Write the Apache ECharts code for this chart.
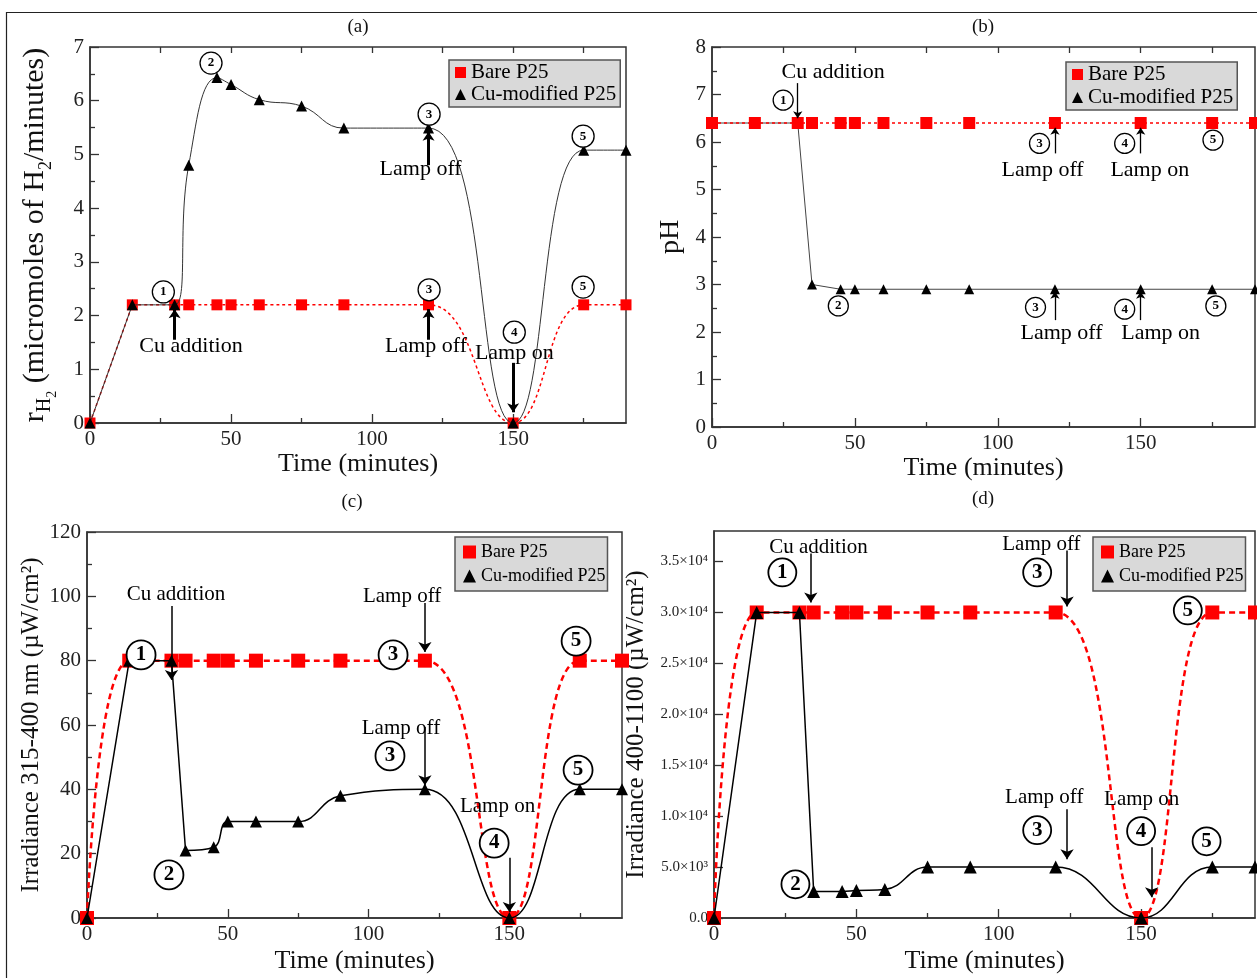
<!DOCTYPE html>
<html><head><meta charset="utf-8">
<script src="https://cdn.jsdelivr.net/npm/echarts@6/dist/echarts.min.js"></script>
<style>html,body{margin:0;padding:0;background:#fff}#c{width:1257px;height:978px}</style>
</head><body><div id="c"></div>
<script>
// ---------------- data ----------------
const time = [0, 15, 30, 35, 45, 50, 60, 75, 90, 120, 150, 175, 190];
const aBare = [0, 2.2, 2.2, 2.2, 2.2, 2.2, 2.2, 2.2, 2.2, 2.2, 0, 2.2, 2.2];
const aCu   = [0, 2.2, 2.2, 4.8, 6.43, 6.3, 6.02, 5.9, 5.49, 5.49, 0, 5.08, 5.08];
const bBare = [6.4, 6.4, 6.4, 6.4, 6.4, 6.4, 6.4, 6.4, 6.4, 6.4, 6.4, 6.4, 6.4];
const bCu   = [6.4, 6.4, 6.4, 3.0, 2.9, 2.9, 2.9, 2.9, 2.9, 2.9, 2.9, 2.9, 2.9];
const cBare = [0, 80, 80, 80, 80, 80, 80, 80, 80, 80, 0, 80, 80];
const cCu   = [0, 80, 80, 21, 22, 30, 30, 30, 38, 40, 0, 40, 40];
const dBare = [0, 30000, 30000, 30000, 30000, 30000, 30000, 30000, 30000, 30000, 0, 30000, 30000];
const dCu   = [0, 30000, 30000, 2600, 2600, 2700, 2800, 5000, 5000, 5000, 0, 5000, 5000];

const xMajorTicks = [0, 50, 100, 150];
const xMinorTicks = [25, 75, 125, 175];
const xTopTicks = [25, 50, 75, 100, 125, 150, 175];
const dYTickValues = [0, 5000, 10000, 15000, 20000, 25000, 30000, 35000];
const dYTickLabels = ['0.0', '5.0×10³', '1.0×10⁴', '1.5×10⁴', '2.0×10⁴', '2.5×10⁴', '3.0×10⁴', '3.5×10⁴'];
const seriesNames = ['Bare P25', 'Cu-modified P25'];

// ---------------- annotations (data coordinates) ----------------
const aCircles = [[26, 2.44, '1'], [42.9, 6.7, '2'], [120.2, 5.75, '3'], [120.2, 2.48, '3'], [150.4, 1.69, '4'], [174.8, 5.34, '5'], [174.8, 2.53, '5']];
const aArrows = [[30, 1.55, 30, 2.12], [120, 4.8, 120, 5.42], [120, 1.55, 120, 2.12], [150, 1.12, 150, 0.2]];
const aTexts = [[35.8, 1.43, 'Cu addition'], [117.2, 4.73, 'Lamp off'], [119.1, 1.43, 'Lamp off'], [150.4, 1.3, 'Lamp on']];

const bCircles = [[24.9, 6.88, '1'], [114.6, 5.97, '3'], [144.4, 5.97, '4'], [175.3, 6.04, '5'], [44.2, 2.55, '2'], [113.2, 2.52, '3'], [144.4, 2.48, '4'], [176.3, 2.55, '5']];
const bArrows = [[30, 7.24, 30, 6.5], [120, 5.76, 120, 6.3], [150, 5.76, 150, 6.3], [120, 2.25, 120, 2.85], [150, 2.25, 150, 2.85]];
const bTexts = [[42.4, 7.46, 'Cu addition'], [115.7, 5.4, 'Lamp off'], [153.2, 5.4, 'Lamp on'], [122.3, 1.98, 'Lamp off'], [157, 1.98, 'Lamp on']];

const cCircles = [[19.2, 81.8, '1'], [108.7, 81.8, '3'], [107.6, 50.4, '3'], [144.6, 23.3, '4'], [173.7, 86.1, '5'], [174.4, 46, '5'], [29.1, 13.4, '2']];
const cArrows = [[30, 97, 30, 74], [120, 97.9, 120, 82.7], [120, 59.4, 120, 41.3], [150, 18.7, 150, 1.9]];
const cTexts = [[31.6, 100.7, 'Cu addition'], [111.9, 100.1, 'Lamp off'], [111.5, 59, 'Lamp off'], [145.8, 34.8, 'Lamp on']];

const dCircles = [[24, 33930, '1'], [113.5, 33930, '3'], [166.4, 30200, '5'], [113.5, 8620, '3'], [150, 8530, '4'], [173, 7530, '5'], [28.6, 3310, '2']];
const dArrows = [[34, 35790, 34, 30980], [124, 36080, 124, 30580], [124, 10670, 124, 5760], [153.7, 6940, 153.7, 2030]];
const dTexts = [[36.7, 36380, 'Cu addition'], [115, 36640, 'Lamp off'], [116, 11840, 'Lamp off'], [150.2, 11640, 'Lamp on']];

// ---------------- layout / style ----------------
const FONT = '"Liberation Serif","Times New Roman","DejaVu Serif",serif';
const RED = '#ff0000';
const AX = '#333';

const panels = [
  { title: '(a)', tx: 358, ty: 27, grid: { left: 90, top: 47, width: 536, height: 376 },
    bare: aBare, cu: aCu, circles: aCircles, arrows: aArrows, texts: aTexts,
    yMax: 7, yInt: 1, yMinor: 2, yLabelSize: 21, xLabelSize: 21, xNameGap: 24, topTicks: true,
    yName: '{n|(micromoles of H}{u|2}{n|/minutes)}', yNameGap: 31, yNameSize: 30,
    yNamePrefix: '{r|r}{h|H}{t|2}{n| }',
    smooth: 0.45, redStraight: 1, cuStraight: 1,
    redType: [3, 3], redW: 1.5, blackW: 1, blackColor: '#333', sq: 11, tri: 11, redZ: 2, cuZ: 3,
    circSize: 22, circFont: 13, circBW: 1.3, textSize: 22, arrowW: 3, arrowSize: 9,
    legend: { left: 449, top: 60, padding: [2, 4, 2, 6], font: 21, lh: 21, gap: 1, icon: 11 } },
  { title: '(b)', tx: 983, ty: 27, grid: { left: 712, top: 47, width: 543, height: 380 },
    bare: bBare, cu: bCu, circles: bCircles, arrows: bArrows, texts: bTexts,
    yMax: 8, yInt: 1, yMinor: 2, yLabelSize: 21, xLabelSize: 21, xNameGap: 25, topTicks: true,
    yName: '{n|pH}', yNameGap: 18, yNameSize: 28, yNamePrefix: '',
    smooth: false, redStraight: 0, cuStraight: 0,
    redType: [3, 3], redW: 1.5, blackW: 1, blackColor: '#444', sq: 12, tri: 10, redZ: 3, cuZ: 2,
    circSize: 20, circFont: 13, circBW: 1.3, textSize: 22, arrowW: 1.3, arrowSize: 7,
    legend: { left: 1066, top: 62, padding: [2, 4, 2, 6], font: 21, lh: 21, gap: 2, icon: 11 } },
  { title: '(c)', tx: 352, ty: 502, grid: { left: 87, top: 532, width: 535, height: 386 },
    bare: cBare, cu: cCu, circles: cCircles, arrows: cArrows, texts: cTexts,
    yMax: 120, yInt: 20, yMinor: 2, yLabelSize: 21, xLabelSize: 21, xNameGap: 30, topTicks: false,
    yName: '{n|Irradiance 315-400 nm (µW/cm²)}', yNameGap: 34, yNameSize: 25, yNamePrefix: '',
    smooth: 0.45, redStraight: 0, cuStraight: 3,
    redType: [6, 4], redW: 2.5, blackW: 1.5, blackColor: '#000', sq: 14, tri: 12, redZ: 2, cuZ: 3,
    circSize: 29, circFont: 21, circBW: 1.8, textSize: 21, arrowW: 1.5, arrowSize: 10,
    legend: { left: 455, top: 537, padding: [4, 2, 4, 8], font: 18, lh: 22, gap: 2, icon: 13 } },
  { title: '(d)', tx: 983, ty: 499, grid: { left: 714, top: 531, width: 541, height: 387 },
    bare: dBare, cu: dCu, circles: dCircles, arrows: dArrows, texts: dTexts,
    yMax: 38000, yInt: 5000, yMinor: 0, yLabelSize: 15, xLabelSize: 21, xNameGap: 30, topTicks: false,
    yName: '{n|Irradiance 400-1100 (µW/cm²)}', yNameGap: 56, yNameSize: 25, yNamePrefix: '',
    smooth: 0.45, redStraight: 0, cuStraight: 3,
    redType: [6, 4], redW: 2.5, blackW: 1.5, blackColor: '#000', sq: 14, tri: 13, redZ: 2, cuZ: 3,
    circSize: 28, circFont: 21, circBW: 1.8, textSize: 21, arrowW: 1.5, arrowSize: 10,
    legend: { left: 1093, top: 537, padding: [4, 2, 4, 8], font: 18, lh: 22, gap: 2, icon: 13 } }
];

function pairs(xs, ys) { return xs.map((x, k) => [x, ys[k]]); }

// line drawn in two pieces: straight up to index k, smoothed afterwards
function lineParts(i, ys, k, smooth, lineStyle, z) {
  const out = [];
  const base = { type: 'line', xAxisIndex: 3 * i, yAxisIndex: i, symbol: 'none', silent: true, z: z,
                 lineStyle: lineStyle, emphasis: { disabled: true }, tooltip: { show: false } };
  if (k > 0) out.push(Object.assign({}, base, { name: '_s' + i + z, smooth: false, data: pairs(time.slice(0, k + 1), ys.slice(0, k + 1)) }));
  out.push(Object.assign({}, base, { name: '_c' + i + z, smooth: smooth, data: pairs(time.slice(k), ys.slice(k)) }));
  return out;
}

const option = { animation: false, grid: [], xAxis: [], yAxis: [], series: [], legend: [], graphic: [] };

panels.forEach((p, i) => {
  option.grid.push(Object.assign({ show: true, borderColor: AX, borderWidth: 1.5, backgroundColor: 'rgba(0,0,0,0)' }, p.grid));
  const axisLine = { show: true, onZero: false, lineStyle: { color: AX, width: 1.5 } };
  const tickLine = { color: AX, width: 1.3 };
  option.xAxis.push({
    gridIndex: i, type: 'value', min: 0, max: 190, position: 'bottom', axisLine: axisLine, splitLine: { show: false },
    axisTick: { show: true, inside: true, length: 9, customValues: xMajorTicks, lineStyle: tickLine },
    axisLabel: { customValues: xMajorTicks, fontFamily: FONT, fontSize: p.xLabelSize, color: '#222', margin: 6 },
    name: 'Time (minutes)', nameLocation: 'middle', nameGap: p.xNameGap,
    nameTextStyle: { fontFamily: FONT, fontSize: 26, color: '#111' }
  });
  option.xAxis.push({
    gridIndex: i, type: 'value', min: 0, max: 190, position: 'bottom', axisLine: { show: false, onZero: false }, splitLine: { show: false },
    axisTick: { show: true, inside: true, length: 5, customValues: xMinorTicks, lineStyle: tickLine },
    axisLabel: { show: false }
  });
  option.xAxis.push({
    gridIndex: i, type: 'value', min: 0, max: 190, position: 'top', show: p.topTicks, axisLine: { show: false, onZero: false }, splitLine: { show: false },
    axisTick: { show: true, inside: true, length: 6, customValues: xTopTicks, lineStyle: tickLine },
    axisLabel: { show: false }
  });
  const rich = {
    n: { fontFamily: FONT, fontSize: p.yNameSize, color: '#111', verticalAlign: 'bottom', padding: [0, 0, 9, 0] },
    r: { fontFamily: FONT, fontSize: p.yNameSize, color: '#111', verticalAlign: 'bottom', padding: [0, 0, 9, 0] },
    h: { fontFamily: FONT, fontSize: 20, color: '#111', verticalAlign: 'bottom', padding: [0, 0, 4, 0] },
    u: { fontFamily: FONT, fontSize: 18, color: '#111', verticalAlign: 'bottom', padding: [0, 0, 4, 0] },
    t: { fontFamily: FONT, fontSize: 14, color: '#111', verticalAlign: 'bottom', padding: [0, 0, 0, 0] }
  };
  const yAx = {
    gridIndex: i, type: 'value', min: 0, max: p.yMax, interval: p.yInt, axisLine: axisLine, splitLine: { show: false },
    axisTick: { show: true, inside: true, length: 9, lineStyle: tickLine },
    minorTick: { show: p.yMinor > 0, splitNumber: p.yMinor || 2, length: 5, lineStyle: tickLine },
    axisLabel: { fontFamily: FONT, fontSize: p.yLabelSize, color: '#222', margin: 6 },
    name: p.yNamePrefix + p.yName, nameLocation: 'middle', nameRotate: 90, nameGap: p.yNameGap,
    nameTextStyle: { fontFamily: FONT, fontSize: p.yNameSize, color: '#111', rich: rich }
  };
  if (i === 3) {
    yAx.axisTick.customValues = dYTickValues;
    yAx.axisLabel.customValues = dYTickValues;
    yAx.axisLabel.formatter = v => dYTickLabels[dYTickValues.indexOf(v)] || '';
  }
  option.yAxis.push(yAx);

  const redLine = { color: RED, width: p.redW, type: p.redType };
  const blackLine = { color: p.blackColor, width: p.blackW, type: 'solid' };

  // line pieces
  option.series.push(...lineParts(i, p.bare, p.redStraight, p.smooth, redLine, p.redZ));
  option.series.push(...lineParts(i, p.cu, p.cuStraight, p.smooth, blackLine, p.cuZ));

  // markers (and legend entries)
  option.series.push({
    type: 'line', name: seriesNames[0], xAxisIndex: 3 * i, yAxisIndex: i, data: pairs(time, p.bare),
    symbol: 'rect', symbolSize: p.sq, showAllSymbol: true, z: p.redZ + 0.5,
    lineStyle: { width: 0, opacity: 0 }, itemStyle: { color: RED, borderWidth: 0 },
    emphasis: { disabled: true }
  });
  option.series.push({
    type: 'line', name: seriesNames[1], xAxisIndex: 3 * i, yAxisIndex: i, data: pairs(time, p.cu),
    symbol: 'triangle', symbolSize: p.tri, showAllSymbol: true, z: p.cuZ + 0.5,
    lineStyle: { width: 0, opacity: 0 }, itemStyle: { color: '#000', borderWidth: 0 },
    emphasis: { disabled: true },
    markPoint: {
      silent: true, animation: false, z: 10,
      data: p.circles.map(c => ({
        coord: [c[0], c[1]], symbol: 'circle', symbolSize: p.circSize,
        itemStyle: { color: '#fff', borderColor: '#000', borderWidth: p.circBW },
        label: { show: true, position: 'inside', formatter: c[2], color: '#000', fontSize: p.circFont, fontWeight: 'bold', fontFamily: FONT }
      })).concat(p.texts.map(t => ({
        coord: [t[0], t[1]], symbol: 'rect', symbolSize: 1,
        itemStyle: { color: 'rgba(0,0,0,0)' },
        label: { show: true, position: 'inside', formatter: t[2], color: '#000', fontSize: p.textSize, fontFamily: FONT }
      })))
    },
    markLine: {
      silent: true, animation: false, symbol: ['none', 'arrow'], symbolSize: p.arrowSize,
      label: { show: false }, emphasis: { disabled: true },
      lineStyle: { color: '#000', width: p.arrowW, type: 'solid' },
      data: p.arrows.map(a => [{ coord: [a[0], a[1]] }, { coord: [a[2], a[3]] }])
    }
  });

  option.legend.push({
    left: p.legend.left, top: p.legend.top, orient: 'vertical', selectedMode: false,
    backgroundColor: '#d9d9d9', borderColor: '#555', borderWidth: 1.5, borderRadius: 0,
    padding: p.legend.padding, itemGap: p.legend.gap, itemWidth: p.legend.icon, itemHeight: p.legend.icon,
    textStyle: { fontFamily: FONT, fontSize: p.legend.font, lineHeight: p.legend.lh, color: '#000' },
    data: [{ name: seriesNames[0], icon: 'rect', itemStyle: { color: RED } },
           { name: seriesNames[1], icon: 'triangle', itemStyle: { color: '#000' } }]
  });

  option.graphic.push({
    type: 'text', x: p.tx, y: p.ty, silent: true,
    style: { text: p.title, font: '19px ' + FONT, fill: '#111', textAlign: 'center', textVerticalAlign: 'middle', align: 'center', verticalAlign: 'middle' }
  });
});

option.graphic.push({
  type: 'rect', silent: true, shape: { x: 6.5, y: 12.5, width: 1300, height: 1000 },
  style: { fill: 'none', stroke: '#222', lineWidth: 1.2 }
});

const chart = echarts.init(document.getElementById('c'), null, { renderer: 'canvas' });
chart.setOption(option);
</script>
</body></html>
